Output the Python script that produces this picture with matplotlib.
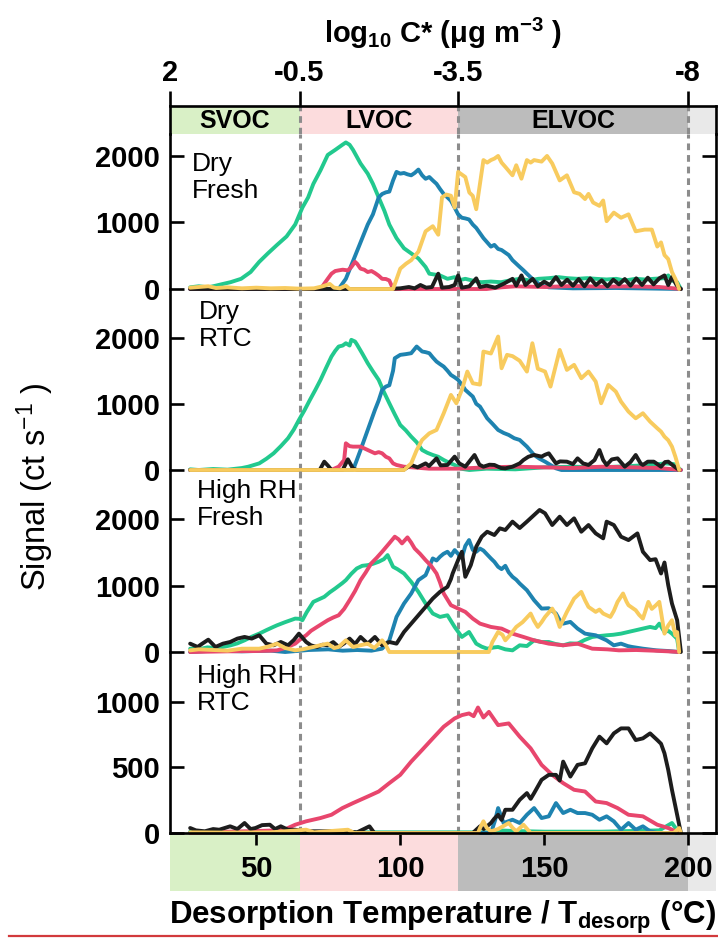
import matplotlib
matplotlib.use("Agg")
import matplotlib.pyplot as plt
from matplotlib.lines import Line2D

plt.rcParams['font.family'] = ['Liberation Sans', 'DejaVu Sans']
plt.rcParams['mathtext.fontset'] = 'custom'
plt.rcParams['mathtext.rm'] = 'Liberation Sans'
plt.rcParams['mathtext.bf'] = 'Liberation Sans:bold'
plt.rcParams['mathtext.it'] = 'Liberation Sans:italic'

# ---------------------------------------------------------------- data
# Volatility classes (desorption temperature bounds, degC) and log10 C* labels
class_names = ['SVOC', 'LVOC', 'ELVOC']
class_bounds = [20, 65, 120, 200, 209.7]
class_colors = ['#d9f0c6', '#fcdcdd', '#bcbcbc', '#e9e9e9']
cstar_ticks = [20, 65, 120, 200]
cstar_labels = ['2', '-0.5', '-3.5', '-8']
temp_ticks = [50, 100, 150, 200]

conditions = ['Dry\nFresh', 'Dry\nRTC', 'High RH\nFresh', 'High RH\nRTC']
series_colors = {'green': '#22c98e', 'blue': '#1e83b0', 'pink': '#e8466d',
                 'black': '#1d1d1d', 'yellow': '#f8cb5e'}

# --- Dry, fresh
dry_fresh_green_T = [27.0, 30, 33.3, 36, 38.4, 41, 44.7, 48, 51.0, 54, 57.2, 60.5, 63.5, 66.0, 68, 69.8, 72.3, 74.8, 77.4, 79.9, 81.1, 82.4, 83.6, 86.2, 88.7, 90.5, 92.5, 94.5, 96.2, 98.7, 101.3, 103.8, 106.3, 108.8, 110.1, 113.8, 116.4, 118.9, 120.1, 122.6, 125, 128, 131.5, 135, 138, 141.5, 145, 148, 151.6, 155, 158, 161.6, 165, 168, 171.7, 175, 178, 181.8, 185, 188, 191.8, 193.1, 194.4, 196.2, 197.5]
dry_fresh_green = [25, 41, 25, 51, 76, 102, 153, 255, 408, 535, 663, 790, 970, 1224, 1377, 1580, 1785, 2015, 2091, 2168, 2203, 2168, 2091, 1887, 1734, 1581, 1377, 1173, 969, 765, 612, 535, 459, 331, 230, 204, 153, 178, 128, 153, 128, 102, 112, 102, 128, 153, 128, 153, 163, 178, 163, 153, 163, 153, 143, 153, 128, 153, 143, 153, 163, 204, 128, 102, 0]
dry_fresh_blue_T = [27, 78.6, 81.1, 83, 84.9, 86.8, 88.7, 90.5, 92.5, 93.7, 95, 96.2, 97.5, 98.7, 100, 101.3, 102.5, 103.8, 105, 106.3, 107.6, 108.8, 110.1, 111.3, 112.6, 113.8, 115.1, 116.4, 117.6, 118.9, 120.1, 121.4, 122.6, 123.9, 125.2, 126.4, 128.9, 131.5, 132.7, 134, 135.2, 137.7, 139, 141.5, 142.8, 144, 146.5, 149.1, 151.6, 160, 175, 197.5]
dry_fresh_blue = [0, 0, 153, 357, 561, 765, 969, 1122, 1377, 1428, 1453, 1464, 1632, 1760, 1734, 1744, 1724, 1709, 1744, 1795, 1709, 1657, 1683, 1632, 1581, 1504, 1428, 1377, 1326, 1224, 1122, 1071, 1061, 1045, 969, 918, 765, 637, 663, 602, 586, 510, 433, 332, 281, 230, 128, 51, 25, 10, 15, 0]
dry_fresh_pink_T = [27, 72.3, 74.8, 76.1, 77.4, 78.6, 80, 81.8, 83, 84.3, 85, 86.2, 87.5, 88.7, 90, 91.2, 92.5, 93.7, 95, 96.2, 97.5, 130, 135, 140, 150, 160, 170, 180, 190, 197.5]
dry_fresh_pink = [0, 0, 153, 230, 270, 280, 290, 280, 330, 408, 380, 306, 290, 255, 270, 240, 200, 153, 150, 128, 0, 0, 25, 40, 30, 45, 35, 40, 30, 0]
dry_fresh_yellow_T = [27, 30, 33.3, 36, 40, 45, 50, 55, 60, 65, 70, 73, 75.5, 77, 79, 81.1, 82.4, 97.5, 100, 102, 103.8, 106.3, 108.8, 111.3, 113.2, 114.5, 116, 117.6, 118.9, 120.1, 121.4, 122.6, 124, 125.2, 126.4, 128.9, 130.2, 131.5, 132.7, 134, 135.2, 136.5, 139, 140.3, 142.1, 144, 145.3, 146.5, 149.1, 151, 152.8, 155.4, 157.9, 160.4, 162.3, 164.2, 165.4, 167, 169.2, 170.5, 171.7, 174.2, 176.7, 179.3, 180.5, 181.8, 184.9, 187.4, 189.3, 190.6, 191.8, 193.1, 194.4, 195.6, 196.9]
dry_fresh_yellow = [20, 30, 41, 15, 25, 10, 20, 10, 15, 5, 10, 40, 76, 20, 10, 50, 0, 0, 306, 380, 433, 561, 867, 944, 816, 1377, 1420, 1402, 1224, 1760, 1720, 1683, 1450, 1400, 1199, 1938, 1900, 1938, 1960, 2000, 1900, 1836, 1709, 1860, 1658, 1938, 1900, 1938, 1915, 2000, 1887, 1632, 1709, 1454, 1430, 1352, 1430, 1300, 1250, 1330, 1020, 1148, 1071, 1122, 1000, 867, 893, 893, 638, 700, 510, 450, 255, 150, 0]
dry_fresh_black_T = [27, 96, 100, 103, 105, 107, 109, 111, 113.2, 114.5, 117, 118.9, 120.1, 121.4, 124, 126.4, 127.7, 130, 133, 136, 139, 140.3, 142.1, 143.5, 146, 147.8, 150, 152, 154.1, 156, 158, 160, 162, 164, 166, 168, 170, 172, 174, 176, 178, 180, 182, 184, 186, 188, 190, 191.8, 193.1, 194.4, 196, 197.5]
dry_fresh_black = [0, 0, 10, 30, 10, 60, 20, 30, 230, 20, 30, 60, 204, 20, 40, 160, 30, 50, 20, 80, 153, 50, 204, 60, 153, 40, 110, 60, 178, 60, 140, 50, 150, 40, 160, 60, 130, 40, 140, 70, 150, 50, 160, 60, 170, 70, 160, 204, 60, 180, 60, 0]

# --- Dry, RTC
dry_rtc_green_T = [27, 30, 35, 40, 45, 47.2, 51, 53.5, 56, 58.5, 61, 63, 64.8, 66.7, 68.6, 70.5, 72.3, 74.2, 76.1, 77.4, 78.6, 80, 81.1, 82.4, 83, 84.3, 84.9, 86.8, 88.7, 90.5, 92.5, 94.3, 96.2, 98.1, 100, 101.9, 103.8, 105.7, 107.6, 109.4, 111.3, 113.2, 115.1, 117, 118.9, 121, 124, 130, 140, 150, 160, 170, 180, 188, 192, 195, 197.5]
dry_rtc_green = [10, 0, 15, 5, 30, 50, 100, 170, 252, 360, 479, 610, 756, 900, 1058, 1210, 1361, 1540, 1714, 1800, 1865, 1880, 1915, 1880, 1966, 1940, 1900, 1760, 1613, 1490, 1361, 1180, 1008, 840, 680, 600, 504, 420, 302, 260, 227, 200, 151, 110, 76, 20, 0, 20, 10, 40, 50, 40, 60, 80, 100, 90, 0]
dry_rtc_blue_T = [27, 83.6, 84.9, 86.2, 88.7, 91.2, 92.5, 93.7, 95, 96.2, 97.5, 98.1, 100, 101.9, 103.8, 105.7, 107.6, 108.8, 110.1, 111.3, 112.6, 113.8, 115.1, 116.4, 117.6, 118.9, 120.1, 121.4, 122.6, 125.2, 126.4, 127.7, 130.2, 132, 134, 135.9, 137.7, 139.6, 141.5, 144, 146.5, 148.4, 150.3, 152.8, 154.1, 156, 197.5]
dry_rtc_blue = [0, 0, 150, 302, 605, 907, 1050, 1210, 1260, 1280, 1500, 1688, 1739, 1750, 1764, 1865, 1790, 1780, 1764, 1700, 1638, 1600, 1562, 1500, 1436, 1400, 1361, 1290, 1210, 1109, 1000, 958, 781, 700, 605, 560, 529, 480, 454, 353, 227, 170, 126, 60, 25, 0, 0]
dry_rtc_pink_T = [27, 76, 78.6, 80.5, 81.1, 82.4, 83.6, 86.2, 88.7, 91.2, 92.5, 93.7, 95, 96.2, 97.5, 98.7, 101.3, 110, 120, 130, 140, 150, 160, 170, 180, 190, 197.5]
dry_rtc_pink = [0, 0, 50, 150, 403, 360, 353, 353, 302, 252, 270, 252, 200, 176, 100, 76, 50, 20, 20, 40, 50, 40, 30, 50, 40, 30, 0]
dry_rtc_yellow_T = [27, 101.3, 103.8, 105.7, 107.6, 110.1, 112.6, 115.1, 117.6, 119.5, 121.4, 123.3, 125.2, 127.7, 128.9, 131.5, 134, 135.2, 137.1, 139, 141.5, 144, 145.9, 147.8, 150.3, 152.2, 155.4, 157.9, 160.4, 162.9, 165.4, 167.9, 169.8, 172.3, 174.9, 176.7, 179.3, 181.8, 184.3, 186.8, 189.3, 190.6, 191.8, 193.1, 194.4, 195.6, 196.9]
dry_rtc_yellow = [0, 0, 100, 300, 454, 554, 605, 857, 1134, 1008, 1210, 1487, 1310, 1290, 1789, 1760, 2016, 1537, 1739, 1720, 1650, 1487, 1915, 1530, 1487, 1260, 1814, 1512, 1588, 1386, 1487, 1336, 1008, 1285, 1184, 1033, 882, 781, 857, 731, 630, 580, 504, 450, 353, 200, 0]
dry_rtc_black_T = [27, 72, 73.6, 75, 76.1, 80, 81.8, 83.6, 85, 101, 103.8, 106, 108.8, 110, 112.6, 114, 116.4, 118.9, 120.5, 122.6, 125.8, 127.5, 128.9, 131, 132.7, 135, 136.5, 139, 141.5, 142.8, 144.5, 146.5, 149.1, 150.3, 151.6, 154.1, 155.5, 157.9, 160, 161.6, 163.5, 165.4, 167.5, 169.2, 170.5, 171.7, 173.5, 175.5, 178, 180, 181.8, 183.5, 184.3, 186, 188.1, 190.6, 192, 193.1, 195, 196.9]
dry_rtc_black = [0, 0, 126, 60, 0, 0, 161, 20, 0, 0, 76, 40, 100, 60, 176, 70, 76, 202, 100, 50, 227, 80, 50, 80, 76, 30, 25, 50, 100, 151, 200, 227, 202, 230, 252, 100, 130, 126, 90, 176, 100, 76, 150, 302, 150, 76, 160, 176, 50, 120, 227, 100, 76, 126, 126, 50, 120, 126, 60, 0]

# --- High RH, fresh
wet_fresh_green_T = [27, 30, 33, 36, 38.4, 41, 43.4, 45.9, 48.4, 51, 53.5, 56, 57.2, 60, 63.5, 65, 66, 67.5, 69.8, 72, 73.6, 75.5, 77.4, 79.9, 81.1, 83, 84.9, 86.8, 88.7, 90.5, 92.5, 94.3, 95.6, 97.5, 99, 101.3, 103.8, 106.3, 108.8, 111.3, 113.8, 116.4, 118.9, 121.4, 123.9, 126.4, 128.3, 130.2, 132.7, 134, 136.5, 139, 141.5, 144, 146.5, 149, 151.6, 154, 156.6, 159, 161.6, 164, 166.7, 169, 171.7, 174, 176.7, 179, 181.8, 184, 186.8, 188.7, 190, 191.8, 193.1, 194.4, 196.2, 196.9]
wet_fresh_green = [50, 40, 70, 60, 76, 100, 130, 176, 230, 277, 330, 380, 403, 450, 504, 500, 480, 600, 756, 800, 832, 900, 958, 1040, 1084, 1180, 1260, 1300, 1310, 1330, 1361, 1400, 1462, 1285, 1250, 1184, 1058, 907, 731, 580, 529, 554, 378, 227, 302, 126, 80, 50, 70, 76, 40, 25, 101, 90, 176, 150, 151, 120, 101, 130, 126, 180, 227, 240, 252, 260, 277, 300, 328, 350, 378, 360, 428, 302, 320, 277, 200, 0]
wet_fresh_blue_T = [27, 35, 45, 55, 60, 68, 75, 80, 85, 90, 93.7, 96.2, 98.7, 101.3, 103.8, 106.3, 108.8, 110, 111.3, 112.6, 113.8, 115, 116.4, 117.6, 118.9, 120.1, 121.4, 122.6, 123.9, 125.2, 126.4, 127.7, 128.9, 130.2, 131.5, 132.7, 134, 135.2, 136.5, 137.7, 139, 140.3, 141.5, 144, 146.5, 149.1, 151.6, 154.1, 155.4, 156.6, 159.1, 161.6, 164.2, 167.9, 171.7, 174.2, 176.7, 179, 180.5, 184.3, 189, 193, 196.9]
wet_fresh_blue = [0, 20, 10, 20, 0, 30, 40, 20, 30, 20, 50, 176, 529, 731, 882, 1084, 1159, 1280, 1411, 1380, 1436, 1480, 1512, 1450, 1537, 1480, 1420, 1600, 1688, 1540, 1512, 1560, 1530, 1470, 1411, 1360, 1285, 1250, 1300, 1200, 1134, 1090, 1033, 932, 781, 655, 660, 580, 480, 428, 454, 353, 277, 252, 176, 101, 126, 90, 76, 50, 25, 15, 0]
wet_fresh_pink_T = [27, 40, 50, 55, 57.2, 60, 63.5, 65.5, 67.3, 69, 71.1, 73, 74.8, 76.7, 78.6, 80.5, 82.4, 84.3, 86.2, 88, 89.9, 91.8, 93.7, 96, 98.1, 99.4, 100.6, 102.5, 103.8, 105, 106.9, 108.8, 110.7, 112.6, 113.8, 115.1, 117.6, 120.1, 122.6, 125.2, 127.7, 131.5, 135.2, 139, 142.8, 146.5, 151.6, 156.6, 161.6, 166.7, 172, 176, 182, 188, 193, 196.9]
wet_fresh_pink = [0, 10, 15, 20, 25, 60, 126, 200, 252, 320, 378, 430, 479, 520, 554, 650, 781, 920, 1084, 1200, 1336, 1420, 1512, 1630, 1739, 1700, 1638, 1729, 1650, 1562, 1480, 1386, 1300, 1184, 1050, 882, 706, 655, 605, 504, 428, 378, 353, 277, 227, 176, 126, 101, 126, 50, 40, 25, 30, 20, 10, 0]
wet_fresh_yellow_T = [27, 30, 35, 40, 45, 51, 54, 57.2, 60, 63.5, 66, 69.8, 72, 74.8, 77, 78.6, 81.1, 83.6, 86, 88.7, 91, 93.7, 95, 96.2, 130.8, 132, 134, 135.5, 136.5, 138, 140.3, 142.5, 145.3, 146.5, 147.8, 149.1, 150.3, 152.8, 154, 155.4, 157.9, 160.4, 162.9, 164.2, 165.4, 167.9, 169.2, 170.5, 173, 174.2, 175.5, 177.4, 178.6, 179.3, 181.8, 183, 184.3, 186.2, 187.4, 188.7, 190, 190.6, 191.8, 193.1, 194.4, 195.6, 196.2, 196.9]
wet_fresh_yellow = [25, 40, 30, 20, 50, 50, 80, 126, 60, 25, 40, 76, 100, 126, 60, 76, 176, 76, 100, 126, 60, 176, 100, 0, 0, 150, 302, 260, 176, 250, 378, 450, 580, 470, 378, 450, 529, 655, 560, 378, 605, 806, 907, 780, 680, 605, 640, 580, 529, 620, 756, 882, 760, 706, 630, 560, 504, 756, 650, 700, 756, 600, 277, 400, 479, 250, 300, 0]
wet_fresh_black_T = [27, 29.6, 31, 33.3, 35.8, 38.4, 40.9, 43.4, 45.9, 48.4, 51, 53.5, 56, 58.5, 61, 63, 64.8, 67.3, 69, 71.1, 73, 74.8, 76.7, 78.6, 80.5, 82.4, 84.3, 86.2, 88.7, 91.2, 93.7, 96.2, 98.7, 101.3, 103.8, 106.3, 108.8, 111.3, 113.8, 116.4, 117.6, 118.2, 120.1, 121.4, 122.6, 124.5, 126.4, 128.3, 130.2, 132.7, 134.6, 136.5, 139, 141.5, 144, 146.5, 148.4, 150.3, 152.8, 155.4, 157.9, 160.4, 162.9, 165.4, 167.9, 170.5, 171.7, 174.2, 176.7, 179.3, 182.4, 184.3, 186.8, 188.7, 190.6, 191.8, 193.1, 194.4, 196.2, 197.5]
wet_fresh_black = [126, 76, 120, 186, 76, 126, 151, 202, 227, 202, 252, 126, 101, 151, 101, 180, 277, 151, 100, 76, 110, 101, 150, 76, 130, 202, 120, 227, 126, 227, 101, 151, 126, 302, 428, 554, 680, 806, 907, 983, 1100, 1184, 1386, 1512, 1134, 1310, 1588, 1739, 1814, 1764, 1865, 1840, 1966, 1870, 1966, 2066, 2142, 2092, 1915, 2041, 1915, 2016, 1814, 1915, 1789, 1714, 1966, 1915, 1739, 1688, 1789, 1512, 1386, 1400, 1184, 1350, 1008, 731, 479, 0]

# --- High RH, RTC
wet_rtc_green_T = [27, 40, 60, 80, 100, 130, 134, 140, 150, 170, 190, 194.4, 196.9]
wet_rtc_green = [10, 5, 10, 5, 5, 5, 20, 15, 10, 10, 20, 76, 0]
wet_rtc_blue_T = [27, 131.5, 133, 134, 135.9, 139, 141.5, 144, 146.5, 149.1, 151.6, 154.1, 156.6, 159.1, 161.6, 164.2, 166.7, 169.2, 171.7, 174.2, 176.7, 179.3, 181.8, 184.3, 186.8, 189.3, 197.5]
wet_rtc_blue = [0, 0, 100, 190, 76, 101, 76, 139, 190, 114, 127, 228, 152, 177, 152, 152, 139, 101, 127, 89, 25, 76, 25, 51, 13, 0, 0]
wet_rtc_pink_T = [27, 40, 50, 57, 59.7, 63.5, 67.3, 72.3, 76.1, 79.9, 83.6, 88.7, 92.5, 96.2, 100, 103.8, 107.6, 111.3, 115.1, 118.9, 121.4, 123.9, 125.5, 127, 128.9, 130.8, 134, 137.7, 141.5, 145.3, 149.1, 152.8, 156.6, 160.4, 164.2, 167.9, 171.7, 175.5, 179.3, 184.3, 189.3, 193.1, 196.9]
wet_rtc_pink = [0, 10, 15, 20, 25, 63, 89, 114, 139, 190, 228, 278, 316, 380, 443, 544, 633, 721, 810, 873, 898, 911, 890, 956, 880, 923, 822, 835, 734, 645, 519, 443, 380, 329, 316, 240, 228, 190, 139, 127, 63, 38, 0]
wet_rtc_yellow_T = [27, 40, 55, 67.3, 70, 81.8, 84, 127, 127.7, 128.9, 130, 131.5, 134, 137.7, 139, 140.3, 142.8, 145.3, 195, 196.9, 197.5]
wet_rtc_yellow = [5, 3, 5, 25, 5, 25, 0, 0, 38, 89, 40, 13, 30, 76, 40, 13, 63, 0, 0, 38, 0]
wet_rtc_black_T = [27, 29, 32.1, 35, 37.1, 40.9, 43.4, 45.9, 48, 49.7, 52, 54.7, 56.5, 58.5, 61, 63.5, 66, 68.6, 72.3, 77.4, 81.1, 85, 89.3, 91, 125.2, 127.7, 129, 131.5, 132.7, 134, 135.2, 136.5, 139, 141.5, 144, 145.3, 146.5, 149.1, 151.6, 154.1, 155.4, 156.6, 159.1, 161.6, 164.2, 166.7, 169.2, 171.7, 174.2, 176.7, 179.3, 181.8, 184.3, 186.8, 189.3, 190.6, 191.8, 193.1, 194.4, 195.6, 197.5]
wet_rtc_black = [38, 20, 13, 30, 25, 51, 30, 76, 30, 38, 60, 63, 30, 51, 25, 25, 15, 13, 13, 13, 13, 5, 51, 0, 0, 51, 30, 76, 110, 139, 100, 177, 177, 253, 304, 260, 304, 405, 443, 443, 400, 544, 430, 519, 531, 645, 734, 683, 759, 797, 797, 708, 721, 759, 708, 680, 607, 481, 329, 202, 0]

panel_series = [
    [(dry_fresh_green_T, dry_fresh_green, 'green'), (dry_fresh_blue_T, dry_fresh_blue, 'blue'),
     (dry_fresh_pink_T, dry_fresh_pink, 'pink'), (dry_fresh_black_T, dry_fresh_black, 'black'),
     (dry_fresh_yellow_T, dry_fresh_yellow, 'yellow')],
    [(dry_rtc_green_T, dry_rtc_green, 'green'), (dry_rtc_blue_T, dry_rtc_blue, 'blue'),
     (dry_rtc_pink_T, dry_rtc_pink, 'pink'), (dry_rtc_black_T, dry_rtc_black, 'black'),
     (dry_rtc_yellow_T, dry_rtc_yellow, 'yellow')],
    [(wet_fresh_green_T, wet_fresh_green, 'green'), (wet_fresh_blue_T, wet_fresh_blue, 'blue'),
     (wet_fresh_pink_T, wet_fresh_pink, 'pink'), (wet_fresh_black_T, wet_fresh_black, 'black'),
     (wet_fresh_yellow_T, wet_fresh_yellow, 'yellow')],
    [(wet_rtc_green_T, wet_rtc_green, 'green'), (wet_rtc_blue_T, wet_rtc_blue, 'blue'),
     (wet_rtc_pink_T, wet_rtc_pink, 'pink'), (wet_rtc_black_T, wet_rtc_black, 'black'),
     (wet_rtc_yellow_T, wet_rtc_yellow, 'yellow')],
]
panel_yticks = [[0, 1000, 2000], [0, 1000, 2000], [0, 1000, 2000], [0, 500, 1000]]

# ---------------------------------------------------------------- layout
W, H = 718, 941
fig = plt.figure(figsize=(W / 100, H / 100), dpi=100)

LEFT, RIGHT = 170, 716
T_LO, T_HI = class_bounds[0], class_bounds[-1]
SPINE_W = 1.9
TICK_FS = 21
DASH_KW = dict(color='#8c8c8c', lw=2.2, ls=(0, (2.2, 1.6)), zorder=1)


def px_axes(left, top, right, bottom, **kw):
    return fig.add_axes([left / W, 1 - bottom / H, (right - left) / W, (bottom - top) / H], **kw)


def fig_xy(x, y):
    return x / W, 1 - y / H


# panel pixel extents (top, bottom) and y-limits
panel_px = [(134, 289), (289, 470), (470, 652), (652, 833)]
panel_ymax = [2330, 2734, 2745, 1379]
label_px = [(192, 152), (199, 300), (197, 479), (197, 664)]

# bottom temperature band
band_bot = px_axes(LEFT, 833, RIGHT, 891, zorder=0)
band_bot.set_xlim(T_LO, T_HI)
band_bot.set_ylim(0, 1)
for (a, b), c in zip(zip(class_bounds[:-1], class_bounds[1:]), class_colors):
    band_bot.axvspan(a, b, color=c, lw=0)
band_bot.axis('off')

# top volatility-class band
band_top = px_axes(LEFT, 105.5, RIGHT, 134, zorder=2)
band_top.set_xlim(T_LO, T_HI)
band_top.set_ylim(0, 1)
for (a, b), c in zip(zip(class_bounds[:-1], class_bounds[1:]), class_colors):
    band_top.axvspan(a, b, color=c, lw=0, zorder=0)
for i, name in enumerate(class_names):
    band_top.text((class_bounds[i] + class_bounds[i + 1]) / 2, 0.45, name,
                  ha='center', va='center', fontsize=18, fontweight='bold', zorder=3)
for x in class_bounds[1:4]:
    band_top.axvline(x, **DASH_KW)
band_top.spines['bottom'].set_visible(False)
for s in ('top', 'left', 'right'):
    band_top.spines[s].set_linewidth(SPINE_W)
band_top.set_yticks([])
band_top.xaxis.tick_top()
band_top.set_xticks(cstar_ticks, labels=cstar_labels, fontsize=TICK_FS, fontweight='bold')
band_top.tick_params(axis='x', direction='out', length=11, width=SPINE_W, pad=2)
fig.text(*fig_xy(443, 33), r'log$_{\mathbf{10}}$ C* (μg m$^{\mathbf{-3}}$ )',
         ha='center', va='center', fontsize=21, fontweight='bold')

# data panels
for k in range(4):
    top, bot = panel_px[k]
    ax = px_axes(LEFT, top, RIGHT, bot, zorder=3 + k)
    ax.set_facecolor('none')
    ax.set_xlim(T_LO, T_HI)
    ax.set_ylim(0, panel_ymax[k])
    for x in class_bounds[1:4]:
        ax.axvline(x, **DASH_KW)
    for t, v, name in panel_series[k]:
        ax.plot(t, v, color=series_colors[name], lw=2.8, solid_joinstyle='round',
                solid_capstyle='round', clip_on=False, zorder=2)
    ax.spines['top'].set_visible(False)
    ax.spines['bottom'].set_visible(k == 3)
    for s in ('left', 'right', 'bottom'):
        ax.spines[s].set_linewidth(SPINE_W)
    ax.set_yticks(panel_yticks[k], labels=[str(v) for v in panel_yticks[k]],
                  fontsize=TICK_FS, fontweight='bold')
    ax.tick_params(axis='y', direction='in', length=10, width=SPINE_W, left=True, right=True, pad=7)
    if k == 3:
        ax.set_xticks(temp_ticks, labels=[str(v) for v in temp_ticks],
                      fontsize=TICK_FS, fontweight='bold')
        ax.tick_params(axis='x', direction='out', length=8.5, width=SPINE_W, pad=7)
    else:
        ax.set_xticks([])
    fig.text(*fig_xy(*label_px[k]), conditions[k], ha='left', va='top',
             fontsize=19, linespacing=1.15)

fig.text(*fig_xy(35, 487), r'Signal (ct s$^{-1}$ )', rotation=90, ha='center', va='center',
         fontsize=23.5)
fig.text(*fig_xy(443, 917), r'Desorption Temperature / T$_{\mathbf{desorp}}$ (°C)',
         ha='center', va='center', fontsize=22.5, fontweight='bold')
fig.add_artist(Line2D([9 / W, 1], [1 - 936 / H] * 2, color='#d23a3c', lw=1.6))

fig.savefig('out.png', dpi=100)
